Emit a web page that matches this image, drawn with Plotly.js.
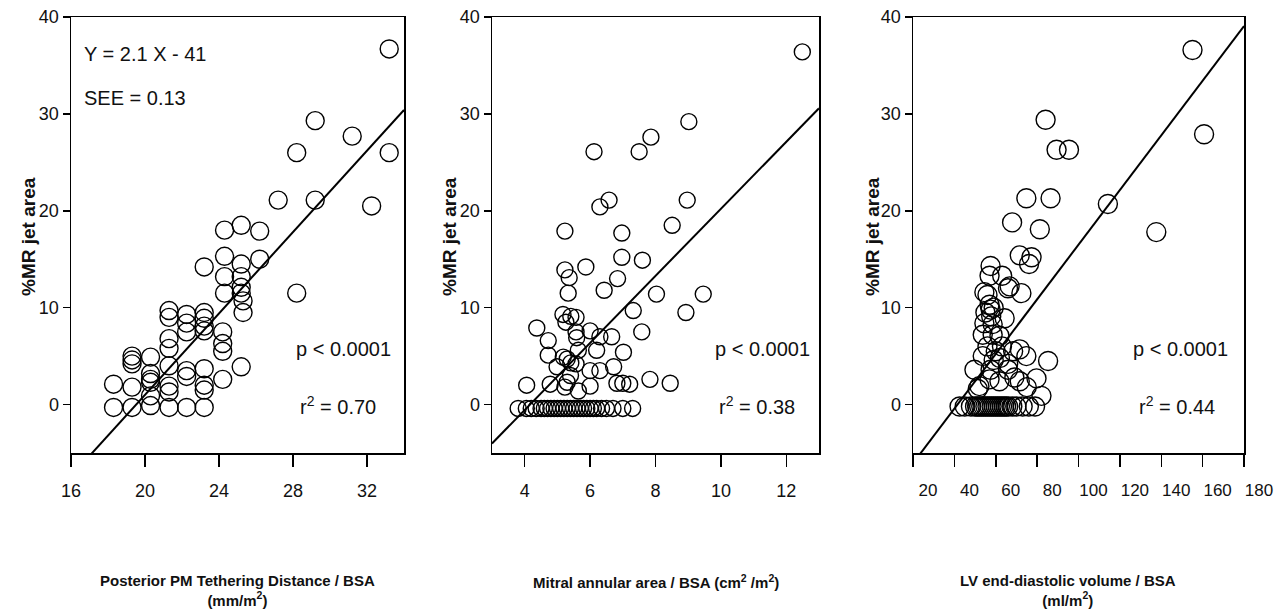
<!DOCTYPE html>
<html><head><meta charset="utf-8">
<script src="https://cdn.plot.ly/plotly-3.0.1.min.js"></script>
<style>html,body{margin:0;padding:0;background:#fff}#chart{width:1275px;height:616px}</style>
</head><body><div id="chart"></div>
<script>
// Panel 1: Posterior PM tethering distance / BSA vs %MR jet area
const tetherX = [33.2,29.2,31.2,28.2,33.2,27.2,29.2,32.25,24.3,25.2,26.2,24.3,25.2,26.2,23.2,24.3,25.2,25.2,24.3,25.2,28.2,
  25.3,25.3,21.3,21.3,22.25,23.2,23.2,22.25,22.25,23.2,23.2,24.2,24.2,24.2,21.3,21.3,19.3,19.3,19.3,20.3,20.3,20.3,20.3,
  21.3,22.25,22.25,23.2,23.2,23.2,24.2,25.2,21.3,21.3,18.3,19.3,18.3,19.3,20.3,21.3,22.25,23.2,20.3];
const tetherY = [36.7,29.3,27.7,26.0,26.0,21.1,21.1,20.5,18.0,18.5,17.9,15.3,14.5,15.0,14.2,13.2,13.2,12.1,11.5,11.5,11.5,
  10.7,9.5,9.7,9.0,9.3,9.5,8.9,8.4,7.5,8.1,7.6,7.5,6.3,5.5,6.8,5.8,5.0,4.6,4.2,4.9,3.2,2.6,2.3,
  4.0,3.5,2.9,3.7,2.0,1.5,2.6,3.9,1.9,1.3,2.1,1.8,-0.3,-0.3,-0.1,-0.3,-0.3,-0.3,0.9];

// Panel 2: Mitral annular area / BSA
const annulusX = [12.49,9.02,7.86,7.5,6.12,6.58,6.30,8.97,8.51,5.23,6.97,6.97,7.6,5.87,5.23,5.36,6.84,5.33,6.43,8.03,9.46,
  8.93,7.32,5.17,5.41,5.57,5.26,5.57,4.37,4.72,4.72,6.0,6.30,6.66,7.58,7.02,6.72,5.3,5.57,4.99,6.0,6.3,5.4,5.23,5.64,
  4.06,4.78,6.82,7.0,7.21,7.83,8.45,5.18,5.41,5.64,6.2,5.59,6.0,5.3,
  3.8,4.05,4.2,4.35,4.5,4.6,4.7,4.8,4.9,5.0,5.1,5.2,5.3,5.4,5.5,5.6,5.7,5.8,5.9,6.0,6.1,6.2,6.35,6.5,6.7,7.0,7.3];
const annulusY = [36.4,29.2,27.6,26.1,26.1,21.1,20.4,21.1,18.5,17.9,17.7,15.2,14.9,14.2,13.9,13.1,13.0,11.5,11.8,11.4,11.4,
  9.5,9.7,9.3,9.1,9.0,8.5,7.5,7.9,6.6,5.1,7.6,7.0,7.0,7.5,5.4,3.9,4.7,4.2,3.9,3.5,3.5,3.0,1.8,1.4,
  2.0,2.1,2.2,2.2,2.1,2.6,2.2,4.9,4.3,5.6,5.6,6.9,1.9,2.3,
  -0.4,-0.4,-0.4,-0.4,-0.4,-0.4,-0.4,-0.4,-0.4,-0.4,-0.4,-0.4,-0.4,-0.4,-0.4,-0.4,-0.4,-0.4,-0.4,-0.4,-0.4,-0.4,-0.4,-0.4,-0.4,-0.4,-0.4];

// Panel 3: LV end-diastolic volume / BSA
const lvedvX = [155.1,160.7,84.1,89.4,95.4,74.8,86.5,114.2,137.6,67.9,81.3,71.6,77.3,76.1,57.5,57.0,63.1,66.7,72.4,54.5,
  56,65.9,57,57.5,57.8,64.3,54.5,58.5,53.7,58.5,61.8,53.7,59,68.4,71.6,74.8,85.3,79.7,71.6,61.8,57,52.1,51.3,82.1,57.5,65.9,49.7,
  56,60,62,66,55,59,63,69,75,
  42.5,45,48,50,51,52,53,54,55,56,57,58,59,60,61,62,63,64,65,66,68,70,73,76,79];
const lvedvY = [36.6,27.9,29.4,26.3,26.3,21.3,21.3,20.7,17.8,18.8,18.1,15.4,15.2,14.5,14.3,13.3,13.3,12.2,11.5,11.6,
  11.3,12.0,10.3,9.8,9.1,8.9,8.4,8.3,7.2,7.2,7.1,5.0,4.6,5.5,5.7,5.0,4.5,2.7,2.4,2.4,2.6,1.9,1.6,0.9,3.6,3.6,3.6,
  6.0,5.5,4.8,4.2,9.5,10.0,6.0,2.8,1.8,
  -0.2,-0.2,-0.2,-0.2,-0.2,-0.2,-0.2,-0.2,-0.2,-0.2,-0.2,-0.2,-0.2,-0.2,-0.2,-0.2,-0.2,-0.2,-0.2,-0.2,-0.2,-0.2,-0.2,-0.2,-0.2];

const fitSlopes = [2.1, 3.46, 0.282];
const fitIntercepts = [-41, -14.4, -11.7];
const xRanges = [[16,34],[3,13],[20,180]];
const yRange = [-5,40];
const xTickVals = [[16,20,24,28,32],[4,6,8,10,12],[20,40,60,80,100,120,140,160,180]];
const yTickVals = [0,10,20,30,40];
const xTitles = ['<b>Posterior PM Tethering Distance / BSA<br>(mm/m<sup>2</sup>)</b>',
                 '<b>Mitral annular area / BSA (cm<sup>2</sup> /m<sup>2</sup>)</b>',
                 '<b>LV end-diastolic volume / BSA<br>(ml/m<sup>2</sup>)</b>'];
const yTitle = '<b>%MR jet area</b>';
const pTexts = ['p < 0.0001','p < 0.0001','p < 0.0001'];
const r2Texts = ['r<sup>2</sup> = 0.70','r<sup>2</sup> = 0.38','r<sup>2</sup> = 0.44'];
const eqText = 'Y = 2.1 X - 41';
const seeText = 'SEE = 0.13';

const W = 1275, H = 616;
const px = x => x / W, py = y => 1 - y / H;
const panelsPx = [[71,404],[492,819],[913,1244]];
const markerSizes = [18,16,19];
const FONT = 'Liberation Sans, Arial, sans-serif';

const xs = [tetherX, annulusX, lvedvX], ys = [tetherY, annulusY, lvedvY];
const traces = [];
const layout = {
  width: W, height: H, margin: {l:0,r:0,t:0,b:0},
  paper_bgcolor: '#fff', plot_bgcolor: '#fff', showlegend: false,
  font: {family: FONT, color: '#111'},
  annotations: []
};
for (let i = 0; i < 3; i++) {
  const sfx = i === 0 ? '' : String(i+1);
  traces.push({x: xs[i], y: ys[i], type: 'scatter', mode: 'markers', xaxis: 'x'+sfx, yaxis: 'y'+sfx,
    marker: {symbol: 'circle-open', size: markerSizes[i], color: '#000', line: {width: 1.4, color: '#000'}},
    cliponaxis: false, hoverinfo: 'x+y'});
  const r = xRanges[i];
  traces.push({x: r, y: r.map(v => fitSlopes[i]*v + fitIntercepts[i]), type: 'scatter', mode: 'lines',
    xaxis: 'x'+sfx, yaxis: 'y'+sfx, line: {color: '#000', width: 2}, hoverinfo: 'skip'});
  const dom = [px(panelsPx[i][0]), px(panelsPx[i][1])];
  layout['xaxis'+sfx] = {domain: dom, range: r, anchor: 'y'+sfx, tickmode: 'array', tickvals: xTickVals[i],
    ticks: 'outside', ticklen: 12, tickwidth: 1.5, tickcolor: '#000', showline: true, mirror: true,
    linecolor: '#000', linewidth: 1.5, showgrid: false, zeroline: false,
    tickfont: {family: FONT, size: i === 2 ? 17 : 18, color: '#111'}, ticklabelstandoff: 9,
    ticklabelshift: i === 2 ? 15 : 0, ticklabeloverflow: 'allow', fixedrange: true};
  layout['yaxis'+sfx] = {domain: [py(453), py(17)], range: yRange, anchor: 'x'+sfx, tickmode: 'array',
    tickvals: yTickVals, ticks: 'outside', ticklen: 7, tickwidth: 1.5, tickcolor: '#000', showline: true,
    mirror: true, linecolor: '#000', linewidth: 1.5, showgrid: false, zeroline: false,
    tickfont: {family: FONT, size: 18, color: '#111'}, ticklabelstandoff: 0, ticklabeloverflow: 'allow',
    fixedrange: true};
  // y title
  layout.annotations.push({xref: 'paper', yref: 'paper', x: px(panelsPx[i][0] - [42,42,40][i]), y: py(237),
    text: yTitle, textangle: -90, showarrow: false, xanchor: 'center', yanchor: 'middle',
    font: {family: FONT, size: 19, color: '#111'}});
  // x title
  layout.annotations.push({xref: 'paper', yref: 'paper', x: px([237,656,1068][i]), y: py(570),
    text: xTitles[i], showarrow: false, xanchor: 'center', yanchor: 'top', align: 'center',
    font: {family: FONT, size: 15, color: '#111'}});
  // stats
  layout.annotations.push({xref: 'paper', yref: 'paper', x: px([393,812,1230][i]), y: py(349),
    text: pTexts[i], showarrow: false, xanchor: 'right', yanchor: 'middle',
    font: {family: FONT, size: 20, color: '#111'}});
  layout.annotations.push({xref: 'paper', yref: 'paper', x: px([298,717,1137][i]), y: py(405),
    text: r2Texts[i], showarrow: false, xanchor: 'left', yanchor: 'middle',
    font: {family: FONT, size: 20, color: '#111'}});
}
layout.annotations.push({xref: 'paper', yref: 'paper', x: px(82), y: py(54), text: eqText, showarrow: false,
  xanchor: 'left', yanchor: 'middle', font: {family: FONT, size: 20, color: '#111'}});
layout.annotations.push({xref: 'paper', yref: 'paper', x: px(82), y: py(98), text: seeText, showarrow: false,
  xanchor: 'left', yanchor: 'middle', font: {family: FONT, size: 20, color: '#111'}});

Plotly.newPlot('chart', traces, layout, {displayModeBar: false, staticPlot: true});
</script></body></html>
